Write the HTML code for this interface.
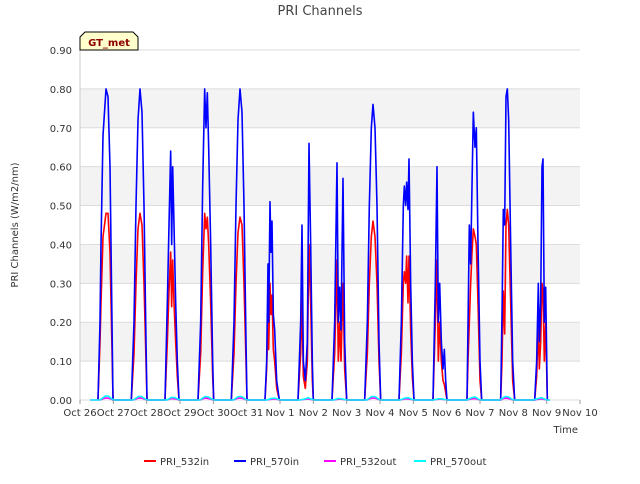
<!DOCTYPE html>
<html><head><meta charset="utf-8"><style>
body{margin:0;background:#fff;font-family:"DejaVu Sans","Liberation Sans",sans-serif}
</style></head><body>
<svg id="chart" width="640" height="480" xmlns="http://www.w3.org/2000/svg" font-family="DejaVu Sans, Liberation Sans, sans-serif">
<rect width="640" height="480" fill="#fff"/>
<text x="320" y="15" text-anchor="middle" font-size="13" fill="#444">PRI Channels</text>
<g id="plot"></g>
<g id="axes"></g>
<text transform="translate(18,225) rotate(-90)" text-anchor="middle" font-size="10" fill="#333">PRI Channels (W/m2/nm)</text>
<text x="578" y="433" text-anchor="end" font-size="10" fill="#333">Time</text>
<g>
<path d="M80,50 L80,37 L85,32 L133,32 L138,37 L138,50 Z" fill="#ffffcc" stroke="#000" stroke-width="1"/>
<text x="109" y="46" text-anchor="middle" font-size="10" font-weight="bold" fill="#8b0000">GT_met</text>
</g>
<g id="legend"></g>
</svg>
<script>
const tickLabels=["Oct 26","Oct 27","Oct 28","Oct 29","Oct 30","Oct 31","Nov 1","Nov 2","Nov 3","Nov 4","Nov 5","Nov 6","Nov 7","Nov 8","Nov 9","Nov 10"];
const yTicks=[0,0.1,0.2,0.3,0.4,0.5,0.6,0.7,0.8,0.9];
const inTimes=[0.54,0.60,0.63,0.69,0.78,0.84,0.90,0.96,0.99,
1.54,1.62,1.68,1.74,1.80,1.86,1.92,1.98,2.01,
2.55,2.62,2.67,2.72,2.75,2.78,2.82,2.87,2.92,2.97,
3.54,3.62,3.68,3.74,3.78,3.82,3.86,3.92,3.98,4.01,
4.54,4.62,4.68,4.74,4.80,4.86,4.92,4.98,5.01,
5.55,5.60,5.64,5.66,5.70,5.73,5.76,5.80,5.84,5.90,5.98,
6.54,6.62,6.66,6.70,6.76,6.82,6.87,6.92,6.97,7.0,
7.56,7.64,7.71,7.75,7.79,7.83,7.89,7.94,8.0,
8.54,8.62,8.68,8.74,8.79,8.85,8.91,8.97,9.02,
9.57,9.64,9.70,9.73,9.77,9.80,9.84,9.87,9.92,9.97,10.02,
10.59,10.66,10.71,10.75,10.79,10.84,10.89,10.93,10.97,11.01,
11.61,11.64,11.68,11.72,11.76,11.80,11.85,11.89,11.94,12.0,12.05,
12.62,12.66,12.70,12.74,12.78,12.82,12.86,12.92,12.98,13.04,
13.64,13.70,13.75,13.78,13.82,13.86,13.89,13.93,13.97,14.02];
const pri570in=[0,0.2,0.4,0.68,0.80,0.78,0.6,0.2,0,
0,0.2,0.5,0.72,0.80,0.74,0.5,0.15,0,
0,0.25,0.45,0.64,0.4,0.6,0.45,0.25,0.1,0,
0,0.2,0.55,0.80,0.70,0.79,0.65,0.4,0.1,0,
0,0.2,0.5,0.72,0.80,0.74,0.5,0.15,0,
0,0.1,0.35,0.2,0.51,0.38,0.46,0.22,0.18,0.05,0,
0,0.2,0.45,0.1,0.05,0.15,0.66,0.4,0.1,0,
0,0.2,0.61,0.2,0.29,0.18,0.57,0.15,0,
0,0.2,0.5,0.7,0.76,0.7,0.5,0.15,0,
0,0.2,0.5,0.55,0.5,0.56,0.49,0.62,0.3,0.1,0,
0,0.3,0.6,0.2,0.3,0.15,0.08,0.13,0.05,0,
0,0.19,0.45,0.35,0.55,0.74,0.65,0.7,0.4,0.1,0,
0,0.22,0.49,0.45,0.78,0.8,0.72,0.4,0.1,0,
0,0.1,0.3,0.15,0.25,0.6,0.62,0.2,0.29,0];
const pri532in=[0,0.15,0.25,0.42,0.48,0.48,0.38,0.13,0,
0,0.12,0.3,0.44,0.48,0.45,0.3,0.1,0,
0,0.15,0.28,0.38,0.24,0.36,0.25,0.15,0.06,0,
0,0.12,0.33,0.48,0.44,0.47,0.4,0.25,0.06,0,
0,0.12,0.3,0.43,0.47,0.45,0.3,0.1,0,
0,0.08,0.2,0.13,0.3,0.22,0.27,0.13,0.1,0.03,0,
0,0.12,0.26,0.06,0.03,0.1,0.4,0.25,0.05,0,
0,0.12,0.36,0.1,0.2,0.1,0.3,0.08,0,
0,0.12,0.3,0.42,0.46,0.42,0.3,0.1,0,
0,0.12,0.3,0.33,0.3,0.37,0.25,0.37,0.18,0.06,0,
0,0.2,0.36,0.1,0.2,0.1,0.05,0.04,0.02,0,
0,0.1,0.2,0.3,0.38,0.44,0.42,0.4,0.25,0.05,0,
0,0.1,0.28,0.17,0.45,0.49,0.45,0.25,0.05,0,
0,0.06,0.2,0.08,0.15,0.3,0.28,0.1,0.2,0];
const outTimes=[0.3,0.6,0.75,0.85,1.0,1.6,1.75,1.85,2.0,2.6,2.75,2.85,3.0,3.6,3.75,3.85,4.0,4.6,4.75,4.85,5.0,5.6,5.75,5.85,6.0,6.6,6.75,6.85,7.0,7.6,7.75,7.85,8.0,8.6,8.75,8.85,9.0,9.6,9.75,9.85,10.0,10.6,10.75,10.85,11.0,11.6,11.75,11.85,12.0,12.6,12.75,12.85,13.0,13.6,13.75,13.85,14.0,14.1];
const pri570out=[0,0,0.01,0.01,0,0,0.009,0.009,0,0,0.007,0.006,0,0,0.009,0.008,0,0,0.009,0.009,0,0,0.004,0.005,0,0,0.003,0.006,0,0,0.004,0.003,0,0,0.009,0.009,0,0,0.005,0.006,0,0,0.003,0.003,0,0,0.006,0.008,0,0,0.009,0.008,0,0,0.004,0.006,0,0];
const pri532out=[0,0,0.005,0.005,0,0,0.005,0.005,0,0,0.004,0.003,0,0,0.005,0.004,0,0,0.005,0.005,0,0,0.002,0.003,0,0,0.002,0.003,0,0,0.002,0.002,0,0,0.005,0.005,0,0,0.003,0.003,0,0,0.002,0.002,0,0,0.003,0.004,0,0,0.005,0.004,0,0,0.002,0.003,0,0];
const NS="http://www.w3.org/2000/svg";
const X0=80,X1=580,Y0=400,Y1=50;
const xs=t=>X0+(t/15)*(X1-X0);
const ys=v=>Y0-(v/0.9)*(Y0-Y1);
const plot=document.getElementById('plot'),axes=document.getElementById('axes'),legend=document.getElementById('legend');
function mk(tag,attrs,parent){const e=document.createElementNS(NS,tag);for(const k in attrs)e.setAttribute(k,attrs[k]);parent.appendChild(e);return e;}
for(let i=0;i<yTicks.length-1;i++){
 const r=mk('rect',{x:X0,y:ys(yTicks[i+1]),width:X1-X0,height:ys(yTicks[i])-ys(yTicks[i+1]),fill:(i%2===1)?'#f3f3f3':'#fff'},plot);
 
 
}
yTicks.forEach(v=>{
 const l=mk('line',{x1:X0,x2:X1,y1:ys(v),y2:ys(v),stroke:'#dcdcdc','stroke-width':1},plot);
 
 
 const t=mk('text',{x:X0-8,y:ys(v)+4,'text-anchor':'end','font-size':10,fill:'#333'},axes);
 t.textContent=v.toFixed(2);
 
 
});
tickLabels.forEach((lab,i)=>{
 const l=mk('line',{x1:xs(i),x2:xs(i),y1:Y0,y2:Y0+4,stroke:'#999'},axes);
 
 
 const t=mk('text',{x:xs(i),y:Y0+16,'text-anchor':'middle','font-size':10,fill:'#333'},axes);
 t.textContent=lab;
 
 
});
mk('line',{x1:X0,x2:X0,y1:Y1,y2:Y0,stroke:'#ccc'},axes);
function series(times,vals,color,w,name){
 const d=times.map((t,i)=>(i?'L':'M')+xs(t).toFixed(2)+','+ys(vals[i]).toFixed(2)).join('');
 const p=mk('path',{d:d,fill:'none',stroke:color,'stroke-width':w,'stroke-linejoin':'round'},plot);
 
 
}
series(inTimes,pri532in,'#ff0000',1.6,'series-pri-532in');
series(inTimes,pri570in,'#0000ff',1.6,'series-pri-570in');
series(outTimes,pri532out,'#ff00ff',1.6,'series-pri-532out');
series(outTimes,pri570out,'#00ffff',1.6,'series-pri-570out');
const legItems=[["PRI_532in","#ff0000",144],["PRI_570in","#0000ff",234],["PRI_532out","#ff00ff",324],["PRI_570out","#00ffff",414]];
legItems.forEach(([lab,c,x])=>{
 const g=mk('g',{},legend);
 
 
 mk('line',{x1:x,x2:x+12,y1:461,y2:461,stroke:c,'stroke-width':2},g);
 const t=mk('text',{x:x+16,y:465,'font-size':10,fill:'#333'},g);
 t.textContent=lab;
});
</script>
</body></html>
